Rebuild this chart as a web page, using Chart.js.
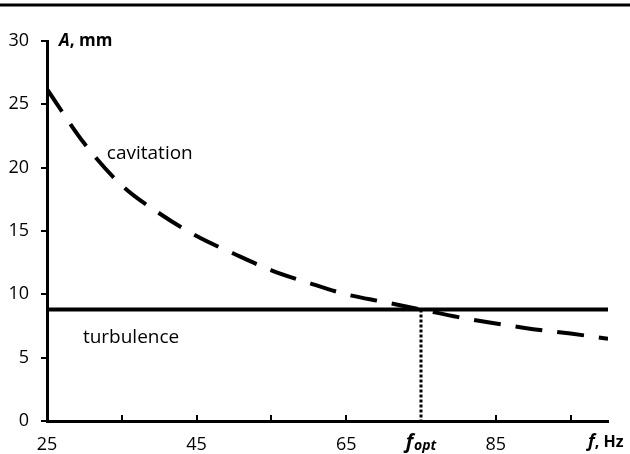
<!DOCTYPE html>
<html lang="en">
  <head>
    <meta charset="UTF-8" />
    <title>Amplitude vs frequency</title>
    <style>
      html, body { margin: 0; padding: 0; background: #fff; }
      #wrap { width: 630px; height: 454px; }
    </style>
  </head>
  <body>
    <div id="wrap"><canvas id="ampChart" width="630" height="454"></canvas></div>

    <script src="https://cdn.jsdelivr.net/npm/chart.js"></script>
    <script>
      // data
      const freq = [25, 30, 35, 40, 45, 50, 55, 60, 65, 70, 75, 80, 85, 90, 95, 100];
      const cavitation = [26.2, 21.9, 18.6, 16.4, 14.6, 13.2, 11.9, 10.9, 10.0, 9.4, 8.8, 8.2, 7.7, 7.25, 6.9, 6.5];
      const turbulenceFreq = [25, 100];
      const turbulenceLevel = 8.8;
      const fOpt = 75;
      const xTicks = [25, 35, 45, 55, 65, 75, 85, 95];
      const xLabeled = [25, 45, 65, 85];
      const yTicks = [0, 5, 10, 15, 20, 25, 30];

      const FONT = "'Open Sans', sans-serif";

      // extra drawing: inner x ticks, axis titles, curve names, top rule
      const decor = {
        id: "decor",
        afterDraw(chart) {
          const ctx = chart.ctx;
          const x = chart.scales.x;
          const y = chart.scales.y;
          const y0 = y.getPixelForValue(0);
          ctx.save();
          ctx.strokeStyle = "#000";
          ctx.fillStyle = "#000";

          // top rule
          ctx.lineWidth = 3;
          ctx.beginPath();
          ctx.moveTo(0, 5);
          ctx.lineTo(chart.width, 5);
          ctx.stroke();

          // x tick marks pointing up
          ctx.lineWidth = 2;
          xTicks.forEach((v) => {
            if (v === fOpt || v === xTicks[0]) return;
            const px = Math.round(x.getPixelForValue(v));
            ctx.beginPath();
            ctx.moveTo(px, y0);
            ctx.lineTo(px, y0 - 6);
            ctx.stroke();
          });

          ctx.textBaseline = "middle";

          // curve names
          ctx.font = "19px " + FONT;
          ctx.textAlign = "left";
          ctx.fillText("cavitation", x.getPixelForValue(33), y.getPixelForValue(21.1));
          ctx.fillText("turbulence", x.getPixelForValue(29.8), y.getPixelForValue(6.55));

          // y axis title: A, mm
          let tx = x.getPixelForValue(25) + 12;
          const ty = y.getPixelForValue(30);
          ctx.font = "italic bold 17px " + FONT;
          ctx.fillText("A", tx, ty);
          tx += ctx.measureText("A").width;
          ctx.font = "bold 17px " + FONT;
          ctx.fillText(", mm", tx, ty);

          // f_opt label under the axis
          const ly = y0 + 21;
          ctx.font = "italic bold 20px " + FONT;
          const fw = ctx.measureText("f").width;
          ctx.font = "italic bold 14px " + FONT;
          const sw = ctx.measureText("opt").width;
          let ox = x.getPixelForValue(fOpt) - (fw + sw + 1) / 2;
          ctx.font = "italic bold 20px " + FONT;
          ctx.fillText("f", ox, ly);
          ctx.font = "italic bold 14px " + FONT;
          ctx.fillText("opt", ox + fw + 1, ly + 4);

          // x axis title: f, Hz
          let hx = x.getPixelForValue(100) - 20;
          ctx.font = "italic bold 18px " + FONT;
          ctx.fillText("f", hx, ly);
          hx += ctx.measureText("f").width;
          ctx.font = "bold 16px " + FONT;
          ctx.fillText(", Hz", hx, ly);

          ctx.restore();
        },
      };

      const ctx = document.getElementById("ampChart").getContext("2d");
      const ampChart = new Chart(ctx, {
        type: "line",
        data: {
          datasets: [
            {
              label: "cavitation",
              data: freq.map((f, i) => ({ x: f, y: cavitation[i] })),
              borderColor: "#000",
              borderWidth: 4,
              borderDash: [27, 15],
              cubicInterpolationMode: "monotone",
              pointRadius: 0,
              fill: false,
            },
            {
              label: "turbulence",
              data: turbulenceFreq.map((f) => ({ x: f, y: turbulenceLevel })),
              borderColor: "#000",
              borderWidth: 4,
              pointRadius: 0,
              fill: false,
            },
            {
              label: "f_opt",
              data: [
                { x: fOpt, y: turbulenceLevel },
                { x: fOpt, y: 0 },
              ],
              borderColor: "#000",
              borderWidth: 3,
              borderDash: [3, 2],
              pointRadius: 0,
              fill: false,
            },
          ],
        },
        options: {
          responsive: false,
          animation: false,
          layout: { padding: { top: 41, right: 22, left: 0, bottom: 0 } },
          plugins: {
            legend: { display: false },
            tooltip: { enabled: false },
          },
          scales: {
            x: {
              type: "linear",
              min: 25,
              max: 100,
              afterBuildTicks: (scale) => {
                scale.ticks = xTicks.map((v) => ({ value: v }));
              },
              afterFit: (scale) => {
                scale.height = 33;
              },
              grid: { display: false, drawTicks: false },
              border: { display: true, color: "#000", width: 3 },
              ticks: {
                autoSkip: false,
                maxRotation: 0,
                padding: 13,
                color: "#000",
                font: { family: FONT, size: 18 },
                callback: (v) => (xLabeled.includes(v) ? String(v) : ""),
              },
            },
            y: {
              min: 0,
              max: 30,
              afterBuildTicks: (scale) => {
                scale.ticks = yTicks.map((v) => ({ value: v }));
              },
              afterFit: (scale) => {
                scale.width = 47;
              },
              grid: {
                drawOnChartArea: false,
                tickLength: 6,
                tickColor: "#000",
                lineWidth: 2,
              },
              border: { display: true, color: "#000", width: 3 },
              ticks: {
                padding: 12,
                color: "#000",
                font: { family: FONT, size: 18 },
              },
            },
          },
        },
        plugins: [decor],
      });
    </script>
  </body>
</html>
